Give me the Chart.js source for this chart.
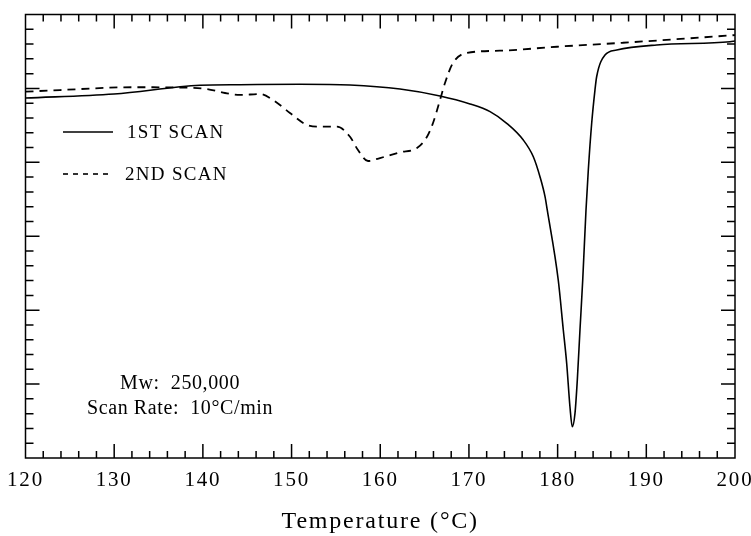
<!DOCTYPE html>
<html>
<head>
<meta charset="utf-8">
<script src="https://cdn.jsdelivr.net/npm/chart.js@4.4.1/dist/chart.umd.min.js"></script>
<style>
  html, body { margin: 0; padding: 0; background: #fff; }
  #wrap { width: 751px; height: 536px; }
</style>
</head>
<body>
<div id="wrap"><canvas id="dsc"></canvas></div>
<script>
// DSC traces, heat flow in arbitrary units (endotherm down)
const scan1Temp = [120, 129.98, 139.68, 144.19, 150.95, 156.59, 162.23, 166.74, 170.12, 172.38,
  174.26, 176.13, 177.26, 178.01, 178.58, 178.83, 180.07, 180.64, 181.02, 181.39, 181.65,
  181.96, 182.22, 182.52, 182.83, 183.2, 183.46, 183.84, 184.21, 184.4, 185.34, 186.66,
  191.17, 199.44, 200];
const scan1Heat = [24.35, 24.62, 25.21, 25.25, 25.28, 25.23, 24.96, 24.49, 23.95, 23.43,
  22.64, 21.51, 20.38, 19.03, 17.68, 16.78, 12.04, 8.66, 6.41, 3.47, 2.12,
  3.04, 5.28, 8.66, 12.04, 16.78, 19.48, 22.64, 24.89, 25.79, 27.26, 27.6,
  27.94, 28.16, 28.21];

const scan2Temp = [120, 123.89, 132.12, 137.42, 140.47, 142.49, 144.19, 146.44, 147.91, 149.82,
  151.74, 153.21, 155.13, 156.59, 157.49, 158.62, 159.97, 162.23, 164.14, 165.27, 165.95,
  166.74, 167.3, 168.2, 169.78, 173.5, 179.93, 187.37, 194.93, 200];
const scan2Heat = [24.78, 24.89, 25.08, 25.06, 24.96, 24.69, 24.56, 24.62, 24.22, 23.34,
  22.53, 22.41, 22.41, 21.73, 20.83, 20.09, 20.29, 20.68, 20.97, 21.73, 22.66,
  24.22, 25.37, 26.72, 27.4, 27.55, 27.82, 28.09, 28.39, 28.61];

const seriesNames = ['1ST SCAN', '2ND SCAN'];
const noteLines = ['Mw:  250,000', 'Scan Rate:  10\u00B0C/min'];
const xTitle = 'Temperature (\u00B0C)';

const xMin = 120, xMax = 200, xMajor = 10, xMinor = 2;
const yMin = 0, yMax = 30, yMajor = 5, yMinor = 1;

const serif = "'Liberation Serif', 'DejaVu Serif', serif";

function toPoints(xs, ys) {
  return xs.map((x, i) => ({ x: x, y: ys[i] }));
}

// spaced-out lettering like the scanned original
const spacingPlugin = {
  id: 'spacing',
  beforeDraw(chart) { chart.ctx.letterSpacing = '1.8px'; },
  beforeDatasetsDraw(chart) { chart.ctx.letterSpacing = '0px'; }
};

// box frame with inward ticks on all four sides
const framePlugin = {
  id: 'frame',
  afterDatasetsDraw(chart) {
    const ctx = chart.ctx;
    const a = chart.chartArea;
    const xs = chart.scales.x, ys = chart.scales.y;
    ctx.save();
    ctx.strokeStyle = '#000';
    ctx.lineWidth = 1.5;
    ctx.setLineDash([]);
    ctx.strokeRect(a.left, a.top, a.right - a.left, a.bottom - a.top);
    ctx.beginPath();
    for (let v = xMin + xMinor; v < xMax; v += xMinor) {
      const px = xs.getPixelForValue(v);
      const len = (Math.round(v) % xMajor === 0) ? 14 : 7;
      ctx.moveTo(px, a.bottom); ctx.lineTo(px, a.bottom - len);
      ctx.moveTo(px, a.top); ctx.lineTo(px, a.top + len);
    }
    for (let v = yMin + yMinor; v < yMax; v += yMinor) {
      const py = ys.getPixelForValue(v);
      const len = (Math.round(v) % yMajor === 0) ? 14 : 8;
      ctx.moveTo(a.left, py); ctx.lineTo(a.left + len, py);
      ctx.moveTo(a.right, py); ctx.lineTo(a.right - len, py);
    }
    ctx.stroke();
    ctx.restore();
  }
};

// legend and sample notes placed inside the plot like the original
const notesPlugin = {
  id: 'notes',
  afterDraw(chart) {
    const ctx = chart.ctx;
    ctx.save();
    ctx.strokeStyle = '#000';
    ctx.fillStyle = '#000';

    ctx.lineWidth = 1.5;
    ctx.setLineDash([]);
    ctx.beginPath(); ctx.moveTo(63, 132); ctx.lineTo(113, 132); ctx.stroke();
    ctx.lineWidth = 1.6;
    ctx.setLineDash([5, 5]);
    ctx.beginPath(); ctx.moveTo(63, 174); ctx.lineTo(113, 174); ctx.stroke();
    ctx.setLineDash([]);

    ctx.letterSpacing = '1.3px';
    ctx.font = '19px ' + serif;
    ctx.textAlign = 'left';
    ctx.textBaseline = 'middle';
    ctx.fillText(seriesNames[0], 127, 133);
    ctx.fillText(seriesNames[1], 125, 175);

    ctx.letterSpacing = '0.6px';
    ctx.font = '20px ' + serif;
    ctx.textAlign = 'center';
    ctx.fillText(noteLines[0], 180, 384);
    ctx.fillText(noteLines[1], 180, 409);
    ctx.restore();
  }
};

const ctx = document.getElementById('dsc').getContext('2d');
new Chart(ctx, {
  type: 'line',
  data: {
    datasets: [
      {
        label: seriesNames[0],
        data: toPoints(scan1Temp, scan1Heat),
        borderColor: '#000',
        borderWidth: 1.6,
        pointRadius: 0,
        fill: false,
        cubicInterpolationMode: 'monotone'
      },
      {
        label: seriesNames[1],
        data: toPoints(scan2Temp, scan2Heat),
        borderColor: '#000',
        borderWidth: 1.8,
        borderDash: [8, 6],
        pointRadius: 0,
        fill: false,
        cubicInterpolationMode: 'monotone'
      }
    ]
  },
  options: {
    responsive: true,
    maintainAspectRatio: false,
    animation: false,
    devicePixelRatio: 1,
    layout: { padding: { left: 25.5, right: 16, top: 14.5, bottom: 0 } },
    plugins: {
      legend: { display: false },
      tooltip: { enabled: false }
    },
    scales: {
      x: {
        type: 'linear',
        min: xMin,
        max: xMax,
        grid: { display: false, drawTicks: false },
        border: { display: false },
        ticks: {
          stepSize: xMajor,
          color: '#000',
          padding: 10,
          maxRotation: 0,
          font: { family: serif, size: 21 }
        },
        title: {
          display: true,
          text: xTitle,
          color: '#000',
          padding: { top: 4, bottom: 0 },
          font: { family: serif, size: 24 }
        },
        afterFit(scale) {
          scale.paddingLeft = 0;
          scale.paddingRight = 0;
        }
      },
      y: {
        type: 'linear',
        min: yMin,
        max: yMax,
        display: false
      }
    }
  },
  plugins: [spacingPlugin, framePlugin, notesPlugin]
});
</script>
</body>
</html>
